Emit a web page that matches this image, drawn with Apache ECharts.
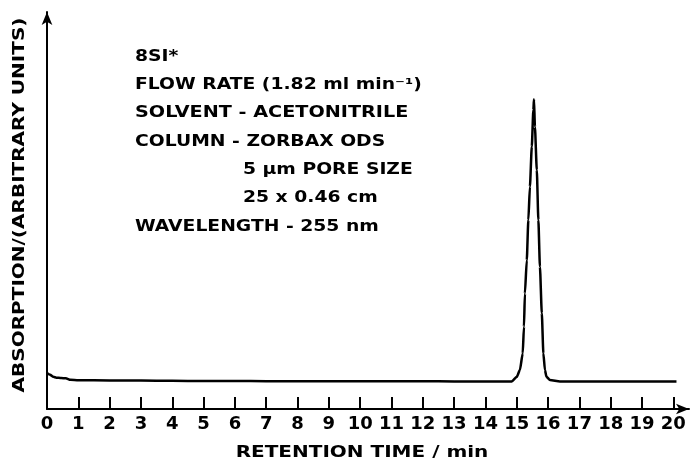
<!DOCTYPE html>
<html>
<head>
<meta charset="utf-8">
<script src="https://cdn.jsdelivr.net/npm/echarts@6/dist/echarts.min.js"></script>
<style>
  html, body { margin: 0; padding: 0; background: #fff; }
  #chart { width: 691px; height: 465px; }
</style>
</head>
<body>
<div id="chart"></div>
<script>
// Retention time (min) and detector absorption (arbitrary units, 0-100 scale)
const retentionTime = [
  0, 0.1, 0.2, 0.3, 0.45, 0.6, 0.75, 1.0, 2, 3, 4, 5, 6, 7, 8, 9, 10, 11, 12, 13, 14, 14.6,
  14.84, 15.0, 15.1, 15.19, 15.23, 15.26, 15.32, 15.37, 15.42, 15.48, 15.53, 15.55,
  15.58, 15.64, 15.69, 15.74, 15.8, 15.85, 15.9, 15.95, 16.06, 16.38,
  17, 18, 19, 20.1
];
const absorption = [
  9.1, 8.6, 8.1, 7.9, 7.8, 7.75, 7.35, 7.25, 7.2, 7.15, 7.1, 7.05, 7.05, 7.0, 7.0, 7.0, 7.0, 7.0, 7.0, 6.95, 6.9, 6.9,
  6.95, 8.1, 9.8, 14.0, 20.7, 29.1, 37.5, 47.6, 56.0, 66.1, 75.3, 78.0,
  71.1, 60.2, 47.6, 35.8, 24.1, 14.0, 9.8, 8.1, 7.3, 6.9,
  6.95, 6.95, 6.9, 6.9
];
const tickLabels = ['0','1','2','3','4','5','6','7','8','9','10','11','12','13','14','15','16','17','18','19','20'];

// Run conditions printed inside the plot
const conditionLines = [
  '8SI*',
  'FLOW RATE (1.82 ml min⁻¹)',
  'SOLVENT - ACETONITRILE',
  'COLUMN - ZORBAX ODS',
  '5 μm PORE SIZE',
  '25 x 0.46 cm',
  'WAVELENGTH - 255 nm'
];
const conditionIndent = [false, false, false, false, true, true, false];

const xAxisName = 'RETENTION TIME / min';
const yAxisName = 'ABSORPTION/(ARBITRARY UNITS)';

const FONT = '"DejaVu Sans", sans-serif';
const tickValues = tickLabels.map(Number);

const chart = echarts.init(document.getElementById('chart'), null, { renderer: 'canvas' });

const graphics = conditionLines.map((line, i) => ({
  type: 'text',
  x: conditionIndent[i] ? 243 : 135,
  y: 57 + i * 28.3,
  scaleX: i === 2 ? 1.28 : 1.25,
  style: {
    text: line,
    font: 'bold 15px ' + FONT,
    fill: '#000',
    textAlign: 'left',
    textVerticalAlign: 'middle'
  }
}));
graphics.push({
  type: 'text',
  x: 362, y: 453,
  scaleX: 1.25,
  style: { text: xAxisName, font: 'bold 16px ' + FONT, fill: '#000', textAlign: 'center', textVerticalAlign: 'middle' }
});
graphics.push({
  type: 'text',
  x: 20, y: 205,
  rotation: Math.PI / 2,
  scaleX: 1.25,
  style: { text: yAxisName, font: 'bold 16px ' + FONT, fill: '#000', textAlign: 'center', textVerticalAlign: 'middle' }
});

chart.setOption({
  animation: false,
  backgroundColor: '#fff',
  grid: { left: 47, right: 2, top: 12, bottom: 56, containLabel: false, outerBoundsMode: 'none' },
  xAxis: {
    type: 'value',
    min: 0,
    max: 20.5,
    axisLine: {
      show: true,
      symbol: ['none', 'arrow'],
      symbolSize: [8, 13],
      lineStyle: { color: '#000', width: 2 }
    },
    axisTick: {
      show: true,
      inside: true,
      length: 12,
      customValues: tickValues.slice(1),
      lineStyle: { color: '#000', width: 2 }
    },
    axisLabel: {
      show: true,
      customValues: tickValues,
      formatter: v => tickLabels[tickValues.indexOf(v)] ?? '',
      color: '#000',
      fontFamily: FONT,
      fontWeight: 'bold',
      fontSize: 18,
      margin: 6
    },
    splitLine: { show: false }
  },
  yAxis: {
    type: 'value',
    min: 0,
    max: 100,
    axisLine: {
      show: true,
      symbol: ['none', 'arrow'],
      symbolSize: [8, 13],
      lineStyle: { color: '#000', width: 2 }
    },
    axisTick: { show: false },
    axisLabel: { show: false },
    splitLine: { show: false }
  },
  series: [{
    type: 'line',
    data: retentionTime.map((t, i) => [t, absorption[i]]),
    showSymbol: false,
    smooth: 0.2,
    smoothMonotone: 'x',
    lineStyle: { color: '#000', width: 2.5 }
  }],
  graphic: graphics
});
</script>
</body>
</html>
